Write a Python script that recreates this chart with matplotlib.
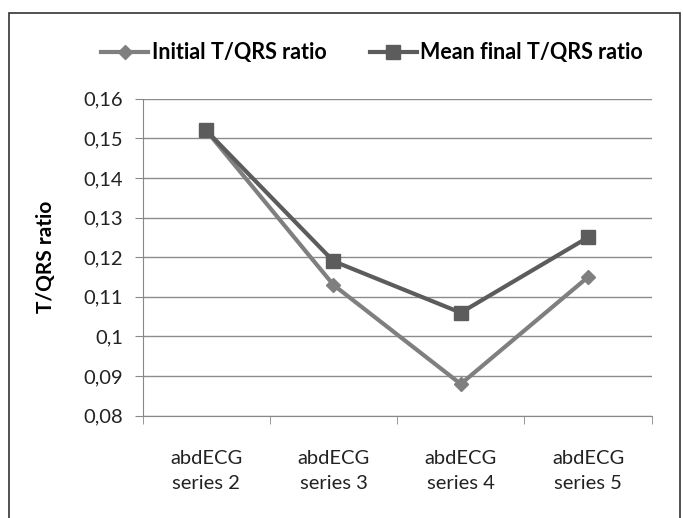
import matplotlib.pyplot as plt
from matplotlib.patches import Rectangle
from matplotlib.ticker import FixedLocator, FuncFormatter

plt.rcParams['font.family'] = ['Lato', 'DejaVu Sans']

categories = ["abdECG\nseries 2", "abdECG\nseries 3", "abdECG\nseries 4", "abdECG\nseries 5"]
initial_ratio = [0.152, 0.113, 0.088, 0.115]
mean_final_ratio = [0.152, 0.119, 0.106, 0.125]
y_ticks = [0.08, 0.09, 0.10, 0.11, 0.12, 0.13, 0.14, 0.15, 0.16]

W, H = 683, 518
fig = plt.figure(figsize=(W / 100, H / 100), dpi=100)
ax = fig.add_axes([142.5 / W, 1 - 415.7 / H, (651.7 - 142.5) / W, (415.7 - 98.7) / H])

# outer border like the Excel chart frame
fig.patches.append(Rectangle((9 / W, -0.05), (680 - 9) / W, 1.05 - 13.3 / H,
                             transform=fig.transFigure, fill=False,
                             edgecolor="#333333", linewidth=1.2))

x = list(range(len(categories)))
ax.plot(x, initial_ratio, color="#7f7f7f", linewidth=3, marker="D", markersize=7,
        label="Initial T/QRS ratio", zorder=3)
ax.plot(x, mean_final_ratio, color="#5c5c5c", linewidth=3, marker="s", markersize=10,
        label="Mean final T/QRS ratio", zorder=4)

ax.set_xlim(-0.5, len(categories) - 0.5)
ax.set_ylim(0.08, 0.16)
ax.set_yticks(y_ticks)
ax.yaxis.set_major_formatter(FuncFormatter(lambda v, p: ("%g" % round(v, 2)).replace(".", ",")))
ax.set_xticks(x)
ax.set_xticklabels(categories, fontsize=14.5, color="#222222", linespacing=1.55)
ax.xaxis.set_minor_locator(FixedLocator([i - 0.5 for i in range(len(categories) + 1)]))
ax.tick_params(axis="x", which="major", length=0, pad=25)
ax.tick_params(axis="x", which="minor", length=6, color="#888888")
ax.tick_params(axis="y", length=6, color="#888888", labelsize=14.5, labelcolor="#222222", pad=8)

ax.grid(axis="y", color="#8c8c8c", linewidth=1)
ax.set_axisbelow(True)
for side in ["top", "right"]:
    ax.spines[side].set_visible(False)
for side in ["left", "bottom"]:
    ax.spines[side].set_color("#888888")

ax.set_ylabel("T/QRS ratio", fontsize=15, fontweight="bold", labelpad=20)

fig.legend(loc="center", bbox_to_anchor=(372 / W, 1 - 53 / H), ncol=2, frameon=False,
           prop={"size": 15.5, "weight": "bold"}, handlelength=2.2, columnspacing=2.0,
           handletextpad=0.15)

fig.savefig("out.png", dpi=100)
